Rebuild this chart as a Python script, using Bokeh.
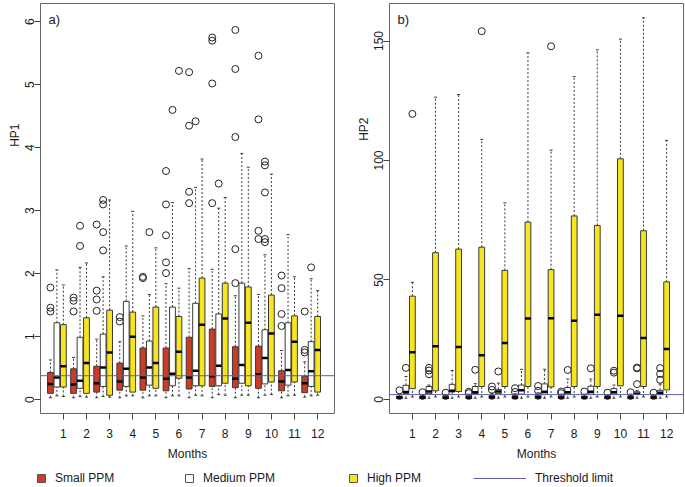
import math
from bokeh.plotting import figure
from bokeh.models import (ColumnDataSource, Label, Legend, LegendItem, Span,
                          FixedTicker, Range1d, Title)
from bokeh.layouts import column, row
from bokeh.embed import file_html
from bokeh.resources import INLINE

# ------------------------------------------------------------------ data
months = list(range(1, 13))
month_labels = [str(m) for m in months]
group_names = ["Small PPM", "Medium PPM", "High PPM"]
threshold_name = "Threshold limit"
x_title = "Months"

# ---- panel a) HP1
hp1_title = "HP1"
hp1_panel = "a)"
hp1_ticks = [0, 1, 2, 3, 4, 5, 6]
hp1_threshold = 0.38

hp1_small_low = [0.03, 0.03, 0.03, 0.03, 0.03, 0.03, 0.03, 0.03, 0.03, 0.03, 0.03, 0.04]
hp1_small_q1 = [0.10, 0.10, 0.12, 0.15, 0.15, 0.14, 0.17, 0.21, 0.19, 0.18, 0.14, 0.11]
hp1_small_med = [0.25, 0.24, 0.26, 0.29, 0.35, 0.33, 0.35, 0.37, 0.33, 0.40, 0.29, 0.26]
hp1_small_q3 = [0.43, 0.49, 0.53, 0.58, 0.82, 0.82, 0.99, 1.12, 0.84, 0.85, 0.46, 0.37]
hp1_small_high = [0.63, 0.67, 0.96, 0.92, 1.33, 1.84, 2.08, 2.07, 1.65, 1.67, 0.78, 0.60]
hp1_small_out = [[1.40, 1.46, 1.78], [1.40, 1.57, 1.62], [1.41, 1.59, 1.73, 2.78],
                 [1.24, 1.31], [1.93, 1.95], [2.01, 2.18, 2.61, 3.10, 3.63],
                 [3.12, 3.30, 4.35, 5.20], [3.12, 5.02, 5.70, 5.75],
                 [1.85, 2.39, 4.17, 5.25, 5.87], [2.55, 2.68, 4.45, 5.46],
                 [1.17, 1.36, 1.77, 1.97], [0.75, 0.79, 1.40]]

hp1_medium_low = [0.06, 0.05, 0.05, 0.06, 0.06, 0.06, 0.07, 0.08, 0.07, 0.07, 0.06, 0.06]
hp1_medium_q1 = [0.20, 0.18, 0.21, 0.21, 0.23, 0.22, 0.22, 0.22, 0.26, 0.25, 0.23, 0.21]
hp1_medium_med = [0.35, 0.30, 0.51, 0.49, 0.51, 0.41, 0.46, 0.54, 0.55, 0.66, 0.47, 0.45]
hp1_medium_q3 = [1.22, 0.99, 1.04, 1.56, 0.93, 1.47, 1.53, 1.36, 1.85, 1.11, 1.22, 0.92]
hp1_medium_high = [2.06, 2.10, 1.95, 2.44, 1.67, 3.13, 3.37, 3.04, 3.91, 2.30, 2.62, 1.92]
hp1_medium_out = [[], [2.44, 2.76], [2.37, 2.66, 3.10, 3.17], [], [2.66], [4.60],
                  [4.42], [3.43], [], [2.50, 2.55, 3.29, 3.72, 3.78], [], [2.10]]

hp1_high_low = [0.05, 0.04, 0.04, 0.06, 0.06, 0.06, 0.06, 0.07, 0.07, 0.08, 0.07, 0.07]
hp1_high_q1 = [0.20, 0.10, 0.07, 0.12, 0.18, 0.34, 0.22, 0.26, 0.22, 0.28, 0.28, 0.12]
hp1_high_med = [0.53, 0.58, 0.75, 1.00, 0.58, 0.76, 1.19, 1.29, 1.22, 1.05, 0.92, 0.79]
hp1_high_q3 = [1.19, 1.30, 1.42, 1.39, 1.47, 1.32, 1.93, 1.85, 1.79, 1.66, 1.33, 1.32]
hp1_high_high = [1.82, 2.17, 3.17, 2.99, 2.41, 1.77, 3.82, 3.21, 3.69, 3.58, 1.95, 1.73]
hp1_high_out = [[], [], [], [], [], [5.22], [], [], [], [], [], []]

# ---- panel b) HP2
hp2_title = "HP2"
hp2_panel = "b)"
hp2_ticks = [0, 50, 100, 150]
hp2_threshold = 2.0

hp2_small_low = [0.1] * 12
hp2_small_q1 = [0.3, 0.3, 0.3, 0.3, 0.4, 0.3, 0.4, 0.3, 0.3, 0.3, 0.3, 0.3]
hp2_small_med = [0.8, 0.8, 0.7, 0.8, 0.9, 0.8, 0.9, 0.8, 0.8, 0.8, 0.8, 0.8]
hp2_small_q3 = [1.4, 1.3, 1.3, 1.4, 1.6, 1.5, 1.7, 1.4, 1.4, 1.3, 1.4, 1.3]
hp2_small_high = [2.2, 2.0, 2.0, 2.2, 2.6, 2.4, 2.8, 2.2, 2.2, 2.0, 2.2, 2.0]
hp2_small_out = [[3.8], [3.0], [2.8], [2.6, 3.2], [4.0, 5.4], [3.1, 4.7],
                 [3.6, 5.6], [2.6, 3.3], [3.3], [2.8], [3.0], [2.8]]

hp2_medium_low = [0.5] * 12
hp2_medium_q1 = [2.4, 2.4, 3.1, 2.4, 2.4, 2.2, 2.2, 2.2, 2.2, 2.2, 2.0, 2.0]
hp2_medium_med = [3.1, 3.3, 3.6, 3.0, 3.3, 3.8, 3.2, 3.0, 3.2, 3.0, 2.4, 2.8]
hp2_medium_q3 = [5.9, 5.4, 6.3, 5.4, 4.2, 6.0, 6.5, 5.0, 5.5, 4.5, 3.2, 3.8]
hp2_medium_high = [9.6, 6.0, 12.1, 6.6, 6.8, 12.6, 12.6, 8.5, 8.5, 6.0, 3.8, 6.4]
hp2_medium_out = [[13.2], [10.5, 12.1, 13.2], [], [12.4], [11.7], [], [], [12.3],
                  [13.0], [11.2, 12.0], [6.4, 13.0, 13.3], [8.2, 10.7, 13.1]]

hp2_high_low = [1.0] * 12
hp2_high_q1 = [4.5, 3.6, 3.3, 5.4, 5.4, 5.4, 5.2, 5.4, 5.4, 5.7, 5.4, 4.0]
hp2_high_med = [19.7, 22.2, 21.9, 18.5, 23.6, 33.9, 34.0, 32.9, 35.4, 35.0, 25.7, 21.1]
hp2_high_q3 = [43.2, 61.4, 62.9, 63.7, 54.0, 74.2, 54.3, 76.8, 72.8, 100.7, 70.6, 49.2]
hp2_high_high = [49.0, 126.5, 127.6, 108.8, 82.3, 145.0, 104.3, 135.1, 146.3, 150.8, 159.7, 108.4]
hp2_high_out = [[119.5], [], [], [154.1], [], [], [147.8], [], [], [], [], []]

# ------------------------------------------------------------------ style
FONT = "Liberation Sans"
TEXT = "#1a1a1a"
SMALL_FILL = "#CF3A25"
MEDIUM_FILL = "#FFFFFF"
HIGH_FILL = "#F7E51F"
BOX_LINE = "#3a3a3a"
FRAME = "#666666"
THR_COLOR = "#5D5DAE"
OFFSETS = [-0.56, -0.28, 0.0]
BOX_W = 0.25
CAP_W = 0.13
TOTAL_W = 685
TOTAL_H = 487
FIG_H = 469
FRAME_TOP = 3
FRAME_H = 410


def add_group(p, offset, low, q1, med, q3, high, outliers, fill):
    x = [m + offset for m in months]
    src = ColumnDataSource(dict(
        x=x, xl=[v - BOX_W / 2 for v in x], xr=[v + BOX_W / 2 for v in x],
        cl=[v - CAP_W / 2 for v in x], cr=[v + CAP_W / 2 for v in x],
        low=low, q1=q1, med=med, q3=q3, high=high))
    p.segment(x0="x", y0="q3", x1="x", y1="high", source=src,
              line_color=BOX_LINE, line_width=1, line_dash="2 2")
    p.segment(x0="x", y0="low", x1="x", y1="q1", source=src,
              line_color=BOX_LINE, line_width=1, line_dash="2 2")
    p.segment(x0="cl", y0="high", x1="cr", y1="high", source=src,
              line_color=BOX_LINE, line_width=1)
    p.segment(x0="cl", y0="low", x1="cr", y1="low", source=src,
              line_color=BOX_LINE, line_width=1)
    p.vbar(x="x", width=BOX_W, bottom="q1", top="q3", source=src,
           fill_color=fill, line_color=BOX_LINE, line_width=1)
    p.segment(x0="xl", y0="med", x1="xr", y1="med", source=src,
              line_color="black", line_width=2.5, line_cap="butt")
    ox = [m + offset for m, vals in zip(months, outliers) for _ in vals]
    oy = [v for vals in outliers for v in vals]
    p.scatter(ox, oy, marker="circle", size=7, fill_color=None,
              line_color="#222222", line_width=1)


def make_panel(width, left, right, yr, ticks, thr, title, panel_label,
               groups, title_offset):
    p = figure(width=width, height=FIG_H, output_backend="svg",
               toolbar_location=None, x_range=Range1d(0.01, 12.73),
               y_range=Range1d(*yr), min_border_left=left,
               min_border_right=right, min_border_top=FRAME_TOP,
               min_border_bottom=FIG_H - FRAME_TOP - FRAME_H)
    p.grid.visible = False
    p.outline_line_color = FRAME
    p.outline_line_width = 1
    p.background_fill_color = "white"
    p.border_fill_color = "white"
    for g, off, fill in zip(groups, OFFSETS, [SMALL_FILL, MEDIUM_FILL, HIGH_FILL]):
        add_group(p, off, *g, fill)
    p.add_layout(Span(location=thr, dimension="width", line_color=THR_COLOR,
                      line_width=1))
    for ax in (p.xaxis[0], p.yaxis[0]):
        ax.axis_line_color = None
        ax.major_tick_line_color = "#444444"
        ax.major_tick_out = 6
        ax.major_tick_in = 0
        ax.minor_tick_line_color = None
        ax.major_label_text_font = FONT
        ax.major_label_text_font_size = "12px"
        ax.major_label_text_color = TEXT
        ax.axis_label_text_font = FONT
        ax.axis_label_text_font_size = "12px"
        ax.axis_label_text_font_style = "normal"
        ax.axis_label_text_color = TEXT
    p.xaxis.ticker = FixedTicker(ticks=months)
    p.xaxis.major_label_overrides = {m: lab for m, lab in zip(months, month_labels)}
    p.xaxis.major_label_standoff = 9
    p.xaxis.axis_label = x_title
    p.xaxis.axis_label_standoff = 6
    p.yaxis.ticker = FixedTicker(ticks=ticks)
    p.yaxis.major_label_orientation = "vertical"
    p.yaxis.major_label_standoff = 0
    p.add_layout(Title(text=title, align="right", offset=title_offset,
                       standoff=0, vertical_align="middle", text_font=FONT,
                       text_font_size="12px", text_font_style="normal",
                       text_color=TEXT), "left")
    p.add_layout(Label(x=8, y=FRAME_H - 16, x_units="screen", y_units="screen",
                       text=panel_label, text_align="left",
                       text_baseline="middle", text_font=FONT,
                       text_font_size="13px", text_color=TEXT))
    return p


p1 = make_panel(339, 40, 5, (-0.22, 6.29), hp1_ticks, hp1_threshold, hp1_title,
                hp1_panel,
                [(hp1_small_low, hp1_small_q1, hp1_small_med, hp1_small_q3, hp1_small_high, hp1_small_out),
                 (hp1_medium_low, hp1_medium_q1, hp1_medium_med, hp1_medium_q3, hp1_medium_high, hp1_medium_out),
                 (hp1_high_low, hp1_high_q1, hp1_high_med, hp1_high_q3, hp1_high_high, hp1_high_out)],
                120)
p2 = make_panel(TOTAL_W - 339, 50, 2, (-5.9, 165.7), hp2_ticks, hp2_threshold,
                hp2_title, hp2_panel,
                [(hp2_small_low, hp2_small_q1, hp2_small_med, hp2_small_q3, hp2_small_high, hp2_small_out),
                 (hp2_medium_low, hp2_medium_q1, hp2_medium_med, hp2_medium_q3, hp2_medium_high, hp2_medium_out),
                 (hp2_high_low, hp2_high_q1, hp2_high_med, hp2_high_q3, hp2_high_high, hp2_high_out)],
                114)

# ------------------------------------------------------------------ legend strip
STRIP_H = TOTAL_H - FIG_H
leg = figure(width=TOTAL_W, height=STRIP_H, output_backend="svg",
             toolbar_location=None, x_range=Range1d(0, TOTAL_W),
             y_range=Range1d(0, STRIP_H), min_border=0,
             x_axis_location=None, y_axis_location=None)
leg.grid.visible = False
leg.outline_line_color = None


def legend_box(items, loc, glyph_w, standoff):
    L = Legend(items=items, location=loc, glyph_width=glyph_w, glyph_height=10,
               label_height=10, label_standoff=standoff, padding=0, margin=0,
               border_line_color=None, background_fill_alpha=0,
               label_text_font=FONT, label_text_font_size="12px",
               label_text_color=TEXT)
    leg.add_layout(L)


# hidden key renderers (their single point lies outside the strip's range)
for name, fill, lx in zip(group_names, [SMALL_FILL, MEDIUM_FILL, HIGH_FILL], [36, 184, 348]):
    r = leg.vbar(x=[-100], top=[-100], bottom=[-101], width=1, fill_color=fill,
                 line_color="#555555")
    legend_box([LegendItem(label=name, renderers=[r])], (lx, 2), 10, 9)
rl = leg.line(x=[-100, -99], y=[-100, -100], line_color=THR_COLOR, line_width=1)
legend_box([LegendItem(label=threshold_name, renderers=[rl])], (473, 2), 53, 9)

layout = column(row(p1, p2), leg)
open("out.html", "w").write(file_html(layout, INLINE))
